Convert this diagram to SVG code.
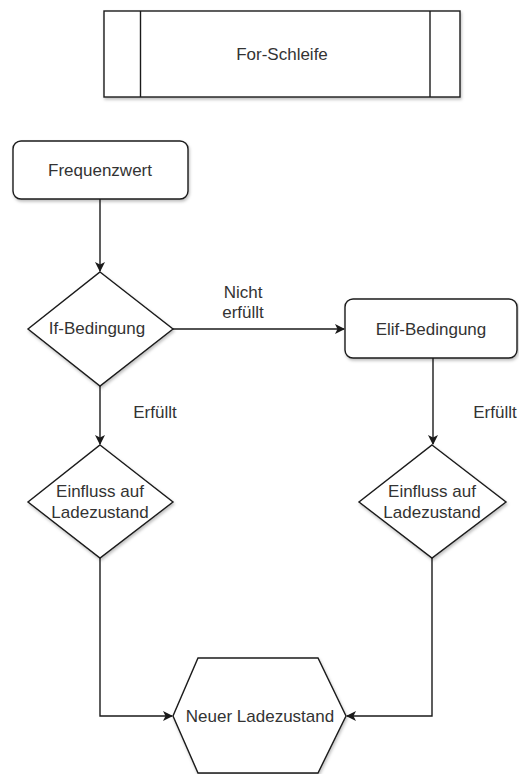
<svg xmlns="http://www.w3.org/2000/svg" width="519" height="774" viewBox="0 0 519 774">
<defs>
<style>
.shape{fill:#fff;stroke:#1a1a1a;stroke-width:1.4;filter:url(#sh)}
.line{fill:none;stroke:#1a1a1a;stroke-width:1.4}
text{font-family:"Liberation Sans",Arial,sans-serif;font-size:17px;fill:#333;text-anchor:middle;dominant-baseline:central}
</style>
<filter id="sh" x="-10%" y="-10%" width="120%" height="130%">
<feDropShadow dx="1" dy="2" stdDeviation="1.5" flood-color="#000" flood-opacity="0.25"/>
</filter>
<marker id="arr" viewBox="0 0 10 10" refX="9" refY="5" markerWidth="10" markerHeight="10" markerUnits="userSpaceOnUse" orient="auto">
<path d="M0,0 L10,5 L0,10 L2.5,5 Z" fill="#1a1a1a"/>
</marker>
</defs>
<g id="for-schleife">
<rect class="shape" x="104" y="11" width="356" height="86"/>
<line class="line" x1="140.5" y1="11" x2="140.5" y2="97"/>
<line class="line" x1="430" y1="11" x2="430" y2="97"/>
<text x="282" y="54">For-Schleife</text>
</g>
<g id="frequenzwert">
<rect class="shape" x="13" y="141" width="175" height="58" rx="8"/>
<text x="100" y="170">Frequenzwert</text>
</g>
<g id="if-bedingung">
<polygon class="shape" points="100,272 173,329 100,386 28,329"/>
<text x="97" y="328">If-Bedingung</text>
</g>
<g id="elif-bedingung">
<rect class="shape" x="345" y="299" width="172" height="59" rx="8"/>
<text x="431" y="329">Elif-Bedingung</text>
</g>
<g id="einfluss-links">
<polygon class="shape" points="100,445 173,502 100,558 28,502"/>
<text x="100" y="491">Einfluss auf</text>
<text x="100" y="512">Ladezustand</text>
</g>
<g id="einfluss-rechts">
<polygon class="shape" points="432,445 506,502 432,558 359,502"/>
<text x="432" y="491">Einfluss auf</text>
<text x="432" y="512">Ladezustand</text>
</g>
<g id="neuer-ladezustand">
<polygon class="shape" points="198,658 318,658 346,716 318,773 198,773 173,716"/>
<text x="260" y="716">Neuer Ladezustand</text>
</g>
<g id="connectors">
<line class="line" x1="100" y1="199" x2="100" y2="271" marker-end="url(#arr)"/>
<line class="line" x1="173" y1="329" x2="344" y2="329" marker-end="url(#arr)"/>
<line class="line" x1="100" y1="386" x2="100" y2="444" marker-end="url(#arr)"/>
<line class="line" x1="433" y1="358" x2="433" y2="444" marker-end="url(#arr)"/>
<polyline class="line" points="100,558 100,716 172,716" marker-end="url(#arr)"/>
<polyline class="line" points="432,558 432,716 347,716" marker-end="url(#arr)"/>
<text x="243" y="292">Nicht</text>
<text x="243" y="312">erfüllt</text>
<text x="155" y="412">Erfüllt</text>
<text x="495" y="412">Erfüllt</text>
</g>
</svg>
